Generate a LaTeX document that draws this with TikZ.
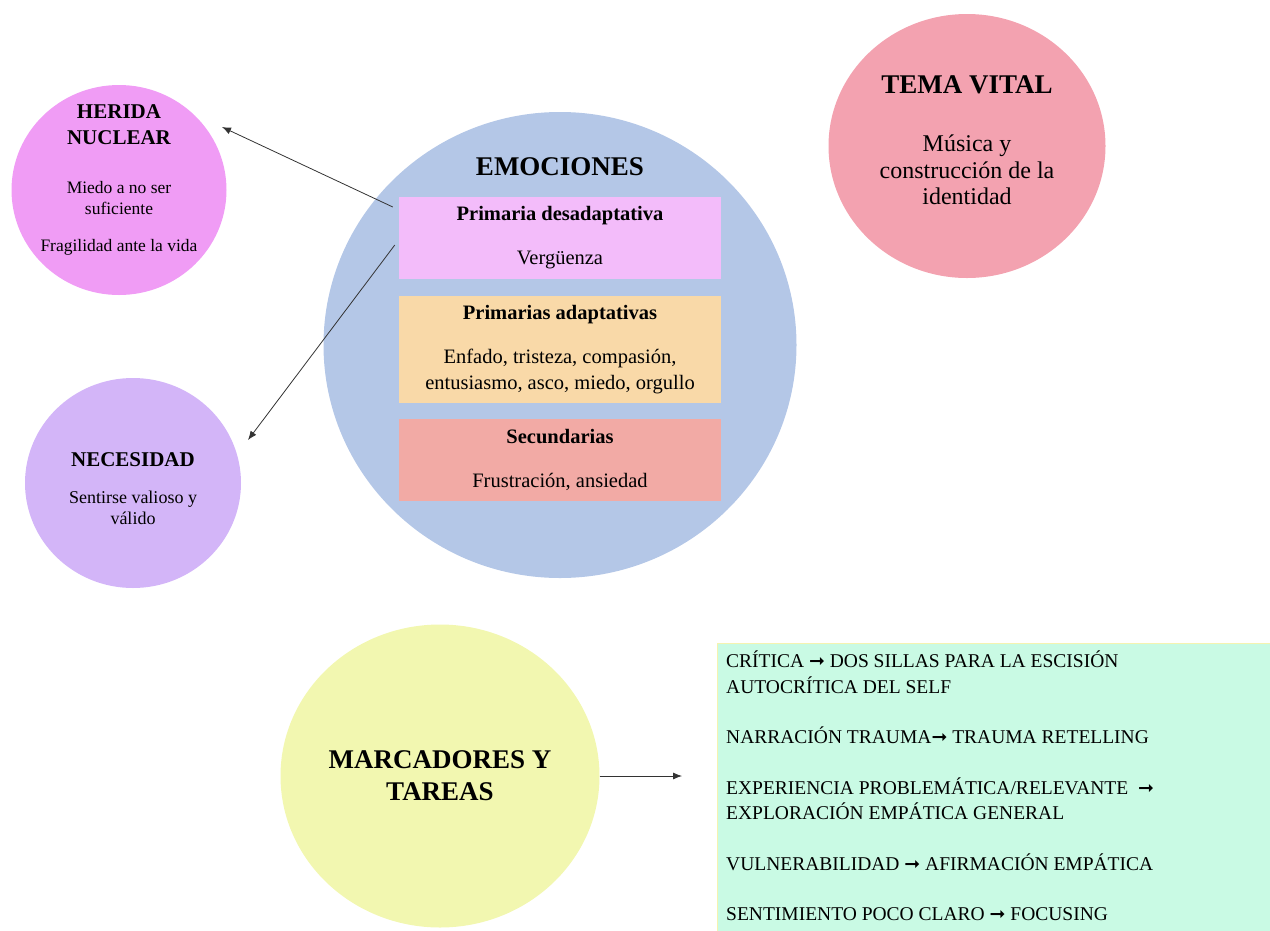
\documentclass[tikz,border=0pt]{standalone}
\usepackage{fontspec}
\setmainfont{Liberation Serif}
\newfontfamily\arrowfont{DejaVu Sans}
\usepackage{xcolor}
\definecolor{heridapink}{RGB}{240,156,245}
\definecolor{necesidadlilac}{RGB}{211,181,248}
\definecolor{emocionesblue}{RGB}{180,199,231}
\definecolor{temarose}{RGB}{243,162,176}
\definecolor{marcadoresyellow}{RGB}{242,247,176}
\definecolor{tareasgreen}{RGB}{201,250,228}
\definecolor{tareasedge}{RGB}{245,243,176}
\definecolor{desadaptpink}{RGB}{243,188,250}
\definecolor{adaptorange}{RGB}{249,217,168}
\definecolor{secundred}{RGB}{242,170,165}
\usepackage{tikz}
\usetikzlibrary{shapes.geometric}
\usetikzlibrary{arrows.meta}
\newcommand{\widthband}{322pt}
\newcommand{\bandgap}{18pt}
\newcommand{\itemgap}{25pt}
\newcommand{\tarrow}{{\arrowfont\fontsize{19}{25.5}\selectfont ➞}}
\tikzset{
    blob/.style={ellipse, inner sep=0pt},
    heading/.style={align=center, inner sep=0pt, font=\fontsize{21}{26}\selectfont\bfseries},
    bighead/.style={heading, font=\fontsize{27}{32}\selectfont\bfseries},
    body/.style={align=center, inner sep=0pt, font=\fontsize{18}{21}\selectfont},
    bigbody/.style={body, font=\fontsize{24}{26.5}\selectfont},
    band/.style={rectangle, align=center, inner sep=0pt, minimum width=\widthband, font=\fontsize{20.5}{26}\selectfont},
    link/.style={-{Latex[length=9pt, width=7pt]}, draw=black!80, line width=0.8pt}
}

\begin{document}
\begin{tikzpicture}[x=1pt, y=-1pt]
            \useasboundingbox (0,0) rectangle (1270,930);

            \node[blob, fill=heridapink, minimum width=215pt, minimum height=210pt] (herida) at (119,190) {};
            \node[heading] (herida-title) at (119,125) {HERIDA\\NUCLEAR};
            \node[body, font=\fontsize{17.5}{21}\selectfont] (herida-body) at (119,218) {Miedo a no ser\\suficiente\\[16pt]Fragilidad ante la vida};

            \node[blob, fill=necesidadlilac, minimum width=216pt, minimum height=210pt] (necesidad) at (133,483) {};
            \node[heading] (necesidad-title) at (133,460) {NECESIDAD};
            \node[body] (necesidad-body) at (133,508) {Sentirse valioso y\\válido};

            \node[blob, fill=emocionesblue, minimum width=473pt, minimum height=466pt] (emociones) at (560,345) {};
            \node[bighead] (emociones-title) at (560,167) {EMOCIONES};
            \node[band, fill=desadaptpink, minimum height=82pt] (desadapt) at (560,238)
                {\bfseries Primaria desadaptativa\\[\bandgap]Vergüenza};
            \node[band, fill=adaptorange, minimum height=107pt] (adapt) at (560,349.5)
                {\bfseries Primarias adaptativas\\[\bandgap]Enfado, tristeza, compasión,\\entusiasmo, asco, miedo, orgullo};
            \node[band, fill=secundred, minimum height=82pt] (secund) at (560,460)
                {\bfseries Secundarias\\[\bandgap]Frustración, ansiedad};

            \node[blob, fill=temarose, minimum width=277pt, minimum height=264pt] (tema) at (967,146) {};
            \node[bighead] (tema-title) at (967,85) {TEMA VITAL};
            \node[bigbody] (tema-body) at (967,170) {Música y\\construcción de la\\identidad};

            \node[blob, fill=marcadoresyellow, minimum width=319pt, minimum height=303pt] (marcadores) at (440,776) {};
            \node[bighead] (marcadores-title) at (440,776) {MARCADORES Y\\TAREAS};

            \node[rectangle, anchor=north west, inner sep=0pt, fill=tareasgreen, draw=tareasedge, line width=1pt,
                minimum width=555pt, minimum height=289pt] (tareas) at (717,643) {};
            \node[anchor=north west, align=left, inner sep=0pt, font=\fontsize{19.5}{25.5}\selectfont] (tareas-text) at (726,651)
                {CRÍTICA \tarrow{} DOS SILLAS PARA LA ESCISIÓN\\AUTOCRÍTICA DEL SELF\\[\itemgap]%
                NARRACIÓN TRAUMA\tarrow{} TRAUMA RETELLING\\[\itemgap]%
                EXPERIENCIA PROBLEMÁTICA/RELEVANTE~ \tarrow\\EXPLORACIÓN EMPÁTICA GENERAL\\[\itemgap]%
                VULNERABILIDAD \tarrow{} AFIRMACIÓN EMPÁTICA\\[\itemgap]%
                SENTIMIENTO POCO CLARO \tarrow{} FOCUSING};

            \coordinate (desadapt-top) at ([shift={(-6,-31)}]desadapt.west);
            \coordinate (desadapt-low) at ([shift={(-4,7)}]desadapt.west);
            \coordinate (herida-tip) at ([shift={(103,-63)}]herida.center);
            \coordinate (necesidad-tip) at ([shift={(115,-43)}]necesidad.center);
            \coordinate (tareas-in) at ([shift={(-35,0)}]tareas.north west |- marcadores.east);

            \draw[link] (desadapt-top) -- (herida-tip);
            \draw[link] (desadapt-low) -- (necesidad-tip);
            \draw[link] (marcadores.east) -- (tareas-in);
          \end{tikzpicture}
\end{document}
